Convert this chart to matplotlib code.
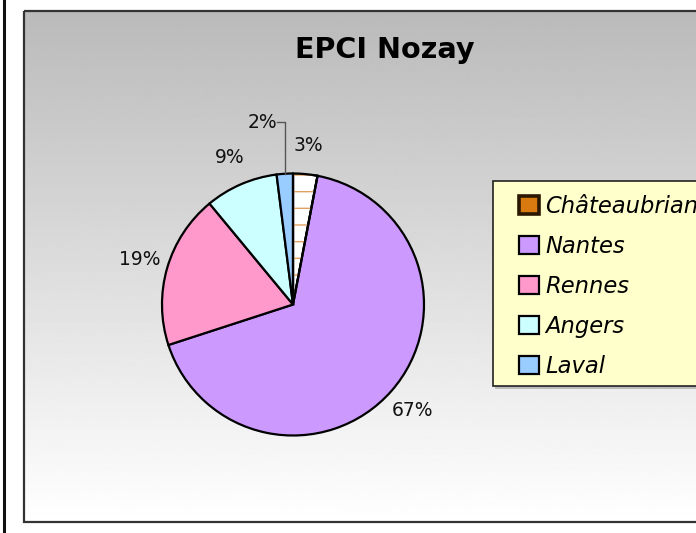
import numpy as np
import matplotlib
matplotlib.use("Agg")
import matplotlib.pyplot as plt
from matplotlib.patches import Rectangle, Wedge, Patch

# ---- data ----
categories = ["Châteaubriant", "Nantes", "Rennes", "Angers", "Laval"]
shares = [3, 67, 19, 9, 2]
slice_colors = ["#FFFFFF", "#CC99FF", "#FF99CC", "#CCFFFF", "#99CCFF"]
legend_colors = ["#D97A10", "#CC99FF", "#FF99CC", "#CCFFFF", "#99CCFF"]
title = "EPCI Nozay"

W, H = 696, 533
fig = plt.figure(figsize=(W / 100, H / 100), dpi=100)
fig.patch.set_facecolor("white")

# ---- background / frame (pixel coords) ----
bg = fig.add_axes([0, 0, 1, 1])
bg.set_xlim(0, W)
bg.set_ylim(H, 0)
bg.axis("off")
grad = np.linspace(0.73, 1.0, 256).reshape(-1, 1)
bg.imshow(grad, cmap="gray", vmin=0, vmax=1, aspect="auto",
          extent=[24, W + 10, 522, 11], zorder=0)
bg.add_patch(Rectangle((24, 11), W, 511, fill=False, edgecolor="#333333", lw=1.6, zorder=1))
bg.plot([4, 4], [0, H], color="#111111", lw=2.2, zorder=1)
# legend box
bg.add_patch(Rectangle((495, 184), W, 205, facecolor="#BBBBBB", edgecolor="none", zorder=1.5))
bg.add_patch(Rectangle((493, 181), W, 205, facecolor="#FFFFCC", edgecolor="#222222", lw=1.2, zorder=2))
bg.set_xlim(0, W)
bg.set_ylim(H, 0)

# ---- title ----
fig.text(385 / W, 1 - 50 / H, title, ha="center", va="center",
         fontsize=20.6, fontweight="bold", family="DejaVu Sans")

# ---- pie ----
cx, cy, R = 293, 304.5, 131
ax = fig.add_axes([(cx - R) / W, (H - cy - R) / H, 2 * R / W, 2 * R / H])
ax.patch.set_alpha(0)
wedges, texts, autotexts = ax.pie(
    shares, colors=slice_colors, startangle=90, counterclock=False,
    wedgeprops=dict(edgecolor="black", linewidth=1.6),
    autopct="%1.0f%%", pctdistance=1.22,
    textprops=dict(fontsize=13.5, color="#111111"))
ax.set_xlim(-1, 1)
ax.set_ylim(-1, 1)
ax.set_aspect("equal")
ax.axis("off")

# hatch pattern on Châteaubriant slice
w0 = wedges[0]
ax.add_patch(Wedge(w0.center, w0.r, w0.theta1, w0.theta2, facecolor="none",
                   edgecolor="#E0A060", linewidth=0, hatch="-", zorder=w0.get_zorder() + 0.1))
ax.add_patch(Wedge(w0.center, w0.r, w0.theta1, w0.theta2, facecolor="none",
                   edgecolor="black", linewidth=1.6, zorder=w0.get_zorder() + 0.2))

# leader line for the smallest slice
wl = wedges[-1]
mid = np.deg2rad((wl.theta1 + wl.theta2) / 2)
x0, y0 = np.cos(mid), np.sin(mid)
ytop = 1.39
ax.plot([x0, x0, x0 - 0.06], [y0, ytop, ytop], color="#555555", lw=1.0, clip_on=False)
autotexts[-1].set_position((x0 - 0.06, ytop))
autotexts[-1].set_ha("right")

# ---- legend ----
handles = [Patch(facecolor=c, edgecolor="black", linewidth=1.6) for c in legend_colors]
handles[0] = Patch(facecolor=legend_colors[0], edgecolor="#2a1800", linewidth=2.6)
leg = fig.legend(handles, categories, loc="upper left",
                 bbox_to_anchor=(519 / W, 1 - 195 / H), frameon=False,
                 borderpad=0, borderaxespad=0, handlelength=0.9, handleheight=0.85,
                 handletextpad=0.25, labelspacing=0.75,
                 prop=dict(family="DejaVu Sans", style="italic", size=16.3))
leg.set_zorder(5)

fig.savefig("out.png", dpi=100)
